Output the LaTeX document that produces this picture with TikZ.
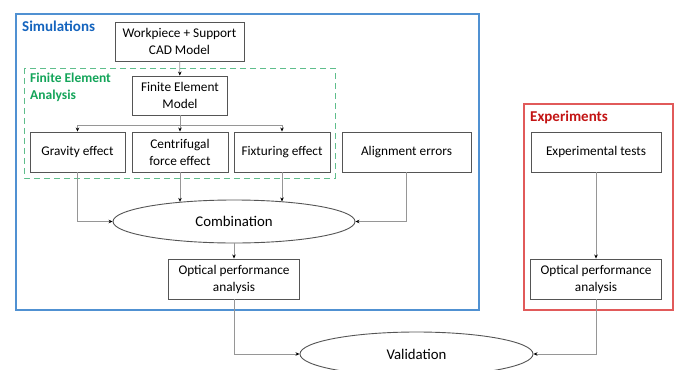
\documentclass[tikz,border=0pt]{standalone}
\usepackage{fontspec}
\setmainfont{Carlito}
\usetikzlibrary{arrows.meta,shapes.geometric,calc}
\definecolor{simblue}{RGB}{80,145,210}
\definecolor{simtext}{RGB}{20,100,190}
\definecolor{feagreen}{RGB}{95,190,140}
\definecolor{featext}{RGB}{20,165,90}
\definecolor{expred}{RGB}{225,90,90}
\definecolor{exptext}{RGB}{195,20,20}
\definecolor{boxgray}{RGB}{85,85,85}
\definecolor{linegray}{RGB}{150,150,150}
\begin{document}
\begin{tikzpicture}[x=1pt,y=-1pt,
  box/.style={draw=boxgray, line width=0.9pt, fill=white, align=center,
    font=\fontsize{13.3}{17}\selectfont, inner sep=1pt, minimum height=40pt},
  oval/.style={ellipse, draw=boxgray, line width=0.9pt, inner sep=0pt,
    font=\fontsize{14.8}{17}\selectfont},
  conn/.style={draw=linegray, line width=0.7pt,
    -{Stealth[length=4pt, width=3.5pt, color=black]}},
  plain/.style={draw=linegray, line width=0.7pt},
  heading/.style={font=\bfseries\fontsize{15}{17}\selectfont, inner sep=0pt}
]
\useasboundingbox (0,0) rectangle (676,369);
\fill[white] (0,0) rectangle (676,369);

% frames
\draw[simblue, line width=1.2pt] (16,14) rectangle (479,310);
\draw[expred, line width=1.2pt] (524,104) rectangle (673,310);
\draw[feagreen, line width=1pt, dash pattern=on 6pt off 4pt] (24,68) rectangle (335,178);

% headings
\node[heading, anchor=west, text=simtext] (simlabel) at (22,26) {Simulations};
\node[heading, anchor=north west, align=left, text=featext,
  font=\bfseries\fontsize{13.5}{17}\selectfont] (fealabel) at (30,73) {Finite Element\\Analysis};
\node[heading, anchor=west, text=exptext] (explabel) at (530,117) {Experiments};

% boxes
\node[box, minimum width=129pt, minimum height=39pt] (wp) at (179.5,41.5) {Workpiece + Support\\CAD Model};
\node[box, minimum width=95pt, minimum height=39pt] (fem) at (180,95.5) {Finite Element\\Model};
\node[box, minimum width=95pt] (grav) at (77.5,152) {Gravity effect};
\node[box, minimum width=96pt] (cent) at (180,152) {Centrifugal\\force effect};
\node[box, minimum width=96pt] (fix) at (282,152) {Fixturing effect};
\node[box, minimum width=129pt] (align) at (406.5,152) {Alignment errors};
\node[box, minimum width=130pt] (exp) at (596,152) {Experimental tests};
\node[oval, minimum width=242pt, minimum height=43pt] (comb) at (234,221.5) {Combination};
\node[box, minimum width=131pt] (opl) at (234,279) {Optical performance\\analysis};
\node[box, minimum width=131pt] (opr) at (596,279) {Optical performance\\analysis};
\node[oval, minimum width=233pt, minimum height=44pt] (val) at (416.5,354) {Validation};

% connectors
\coordinate (br) at (180,125);
\draw[conn] (wp) -- (fem);
\draw[plain] (fem.south) -- (br);
\draw[plain] (grav.north |- br) -- (fix.north |- br);
\draw[conn] (grav.north |- br) -- (grav.north);
\draw[conn] (br) -- (cent.north);
\draw[conn] (fix.north |- br) -- (fix.north);

\draw[conn] (grav.south) |- (comb.west);
\draw[conn] (cent.south) -- (cent.south |- comb.160.4);
\draw[conn] (fix.south) -- (fix.south |- comb.22.3);
\draw[conn] (align.south) |- (comb.east);
\draw[conn] (comb.south) -- (opl.north);
\draw[conn] (exp.south) -- (opr.north);
\draw[conn] (opl.south) |- (val.west);
\draw[conn] (opr.south) |- (val.east);
\end{tikzpicture}
\end{document}
